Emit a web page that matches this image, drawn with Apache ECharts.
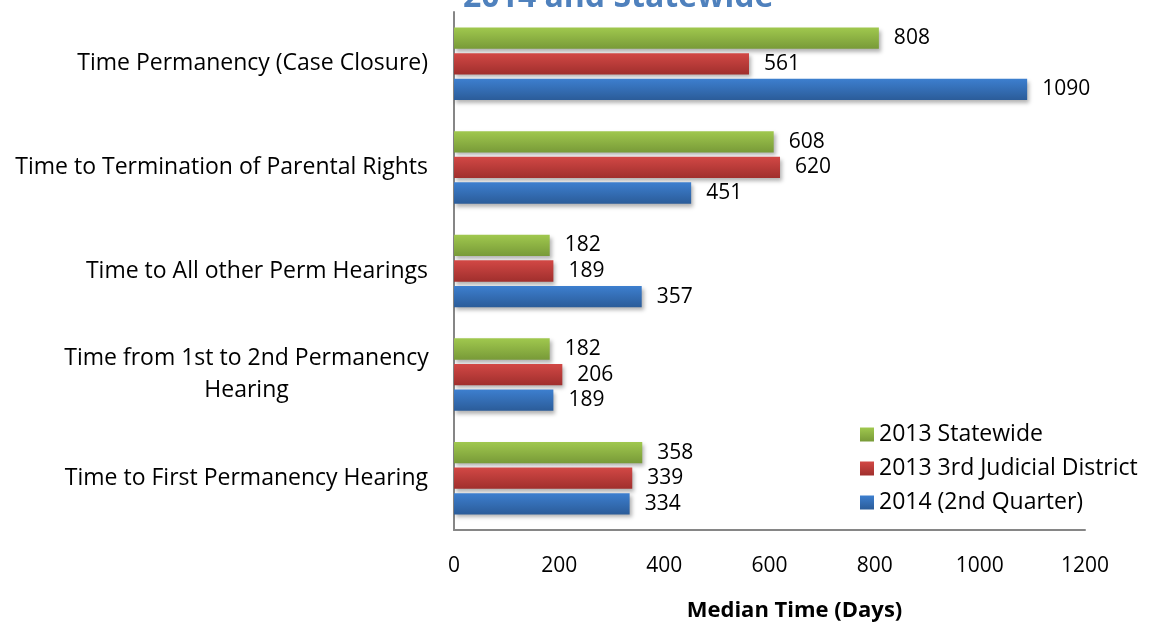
<!DOCTYPE html>
<html>
<head>
<meta charset="utf-8">
<script src="https://cdn.jsdelivr.net/npm/echarts@6/dist/echarts.min.js"></script>
<style>
  html, body { margin: 0; padding: 0; background: #fff; }
  #main { width: 1149px; height: 627px; }
</style>
</head>
<body>
<div id="main"></div>
<script>
// categories from bottom to top
var categories = [
  'Time to First Permanency Hearing',
  'Time from 1st to 2nd Permanency Hearing',
  'Time to All other Perm Hearings',
  'Time to Termination of Parental Rights',
  'Time Permanency (Case Closure)'
];
var seriesNames = ['2013 Statewide', '2013 3rd Judicial District', '2014 (2nd Quarter)'];
var statewide2013 = [358, 182, 182, 608, 808];
var district2013 = [339, 206, 189, 620, 561];
var q2014 = [334, 189, 357, 451, 1090];
var xTicks = [0, 200, 400, 600, 800, 1000, 1200];

var FONT = 'Open Sans';
var chart = echarts.init(document.getElementById('main'));

function grad(top, bottom) {
  return new echarts.graphic.LinearGradient(0, 0, 0, 1, [
    { offset: 0, color: top },
    { offset: 1, color: bottom }
  ]);
}

function barSeries(name, data, top, bottom) {
  return {
    name: name,
    type: 'bar',
    data: data,
    barGap: '20%',
    barCategoryGap: '30%',
    itemStyle: {
      color: grad(top, bottom),
      shadowColor: 'rgba(0,0,0,0.3)',
      shadowBlur: 4,
      shadowOffsetX: 2,
      shadowOffsetY: 3
    },
    label: {
      show: true,
      position: 'right',
      distance: 15,
      color: '#000',
      fontFamily: FONT,
      fontSize: 21
    }
  };
}

var option = {
  backgroundColor: '#fff',
  animation: false,
  title: {
    text: '2014 and Statewide',
    left: 458,
    top: -23,
    textStyle: { color: '#4F81BD', fontFamily: FONT, fontWeight: 'bold', fontSize: 32 }
  },
  legend: {
    orient: 'vertical',
    left: 855,
    top: 418,
    itemWidth: 14,
    itemHeight: 14,
    itemGap: 11,
    icon: 'rect',
    data: seriesNames,
    textStyle: { color: '#000', fontFamily: FONT, fontSize: 23 }
  },
  grid: { left: 454, top: 12, width: 631, height: 518, containLabel: false },
  xAxis: {
    type: 'value',
    min: 0,
    max: 1200,
    interval: 200,
    name: 'Median Time (Days)',
    nameLocation: 'middle',
    nameGap: 70,
    nameTextStyle: { color: '#000', fontFamily: FONT, fontWeight: 'bold', fontSize: 22, padding: [0, 0, 0, 50] },
    axisLine: { show: true, lineStyle: { color: '#868686', width: 2 } },
    axisTick: { show: false },
    splitLine: { show: false },
    axisLabel: {
      color: '#000', fontFamily: FONT, fontSize: 21, margin: 26,
      formatter: function (v) { return xTicks.indexOf(v) >= 0 ? String(v) : ''; }
    }
  },
  yAxis: {
    type: 'category',
    data: categories,
    axisLine: { show: true, lineStyle: { color: '#868686', width: 2 } },
    axisTick: { show: false },
    axisLabel: {
      color: '#000', fontFamily: FONT, fontSize: 23, margin: 26,
      formatter: function (v) {
        if (v === 'Time from 1st to 2nd Permanency Hearing') {
          return '{c|Time from 1st to 2nd Permanency}\n{c|Hearing}';
        }
        return v;
      },
      rich: {
        c: { width: 363, align: 'center', color: '#000', fontFamily: FONT, fontSize: 23, lineHeight: 32 }
      }
    }
  },
  series: [
    barSeries(seriesNames[0], statewide2013, '#A0C84E', '#789A38'),
    barSeries(seriesNames[1], district2013, '#D24845', '#A02F2D'),
    barSeries(seriesNames[2], q2014, '#3D7FCF', '#2B5C99')
  ]
};

chart.setOption(option);
</script>
</body>
</html>
